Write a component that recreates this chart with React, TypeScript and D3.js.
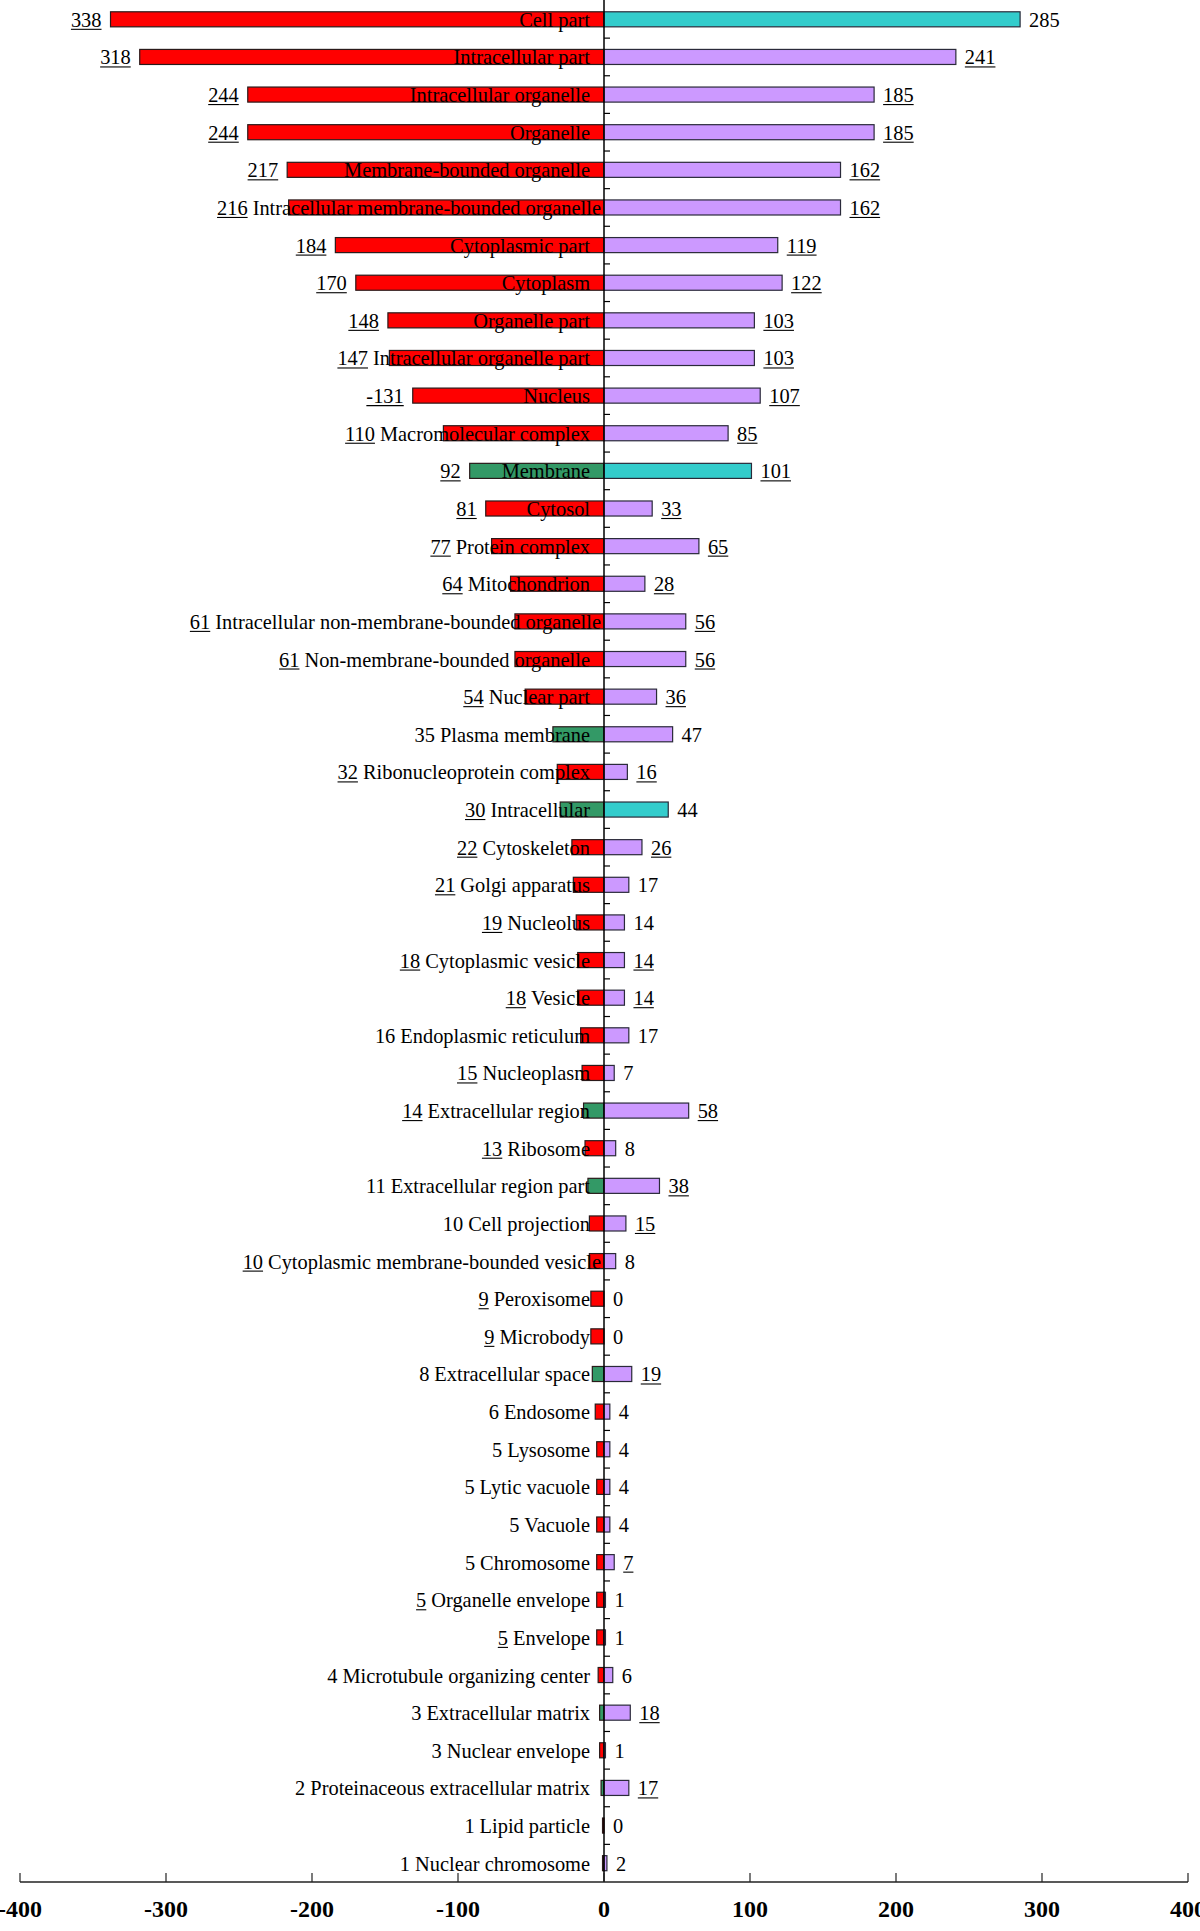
import React from 'react';
import * as d3 from 'd3';

const categories = [
  'Cell part', 'Intracellular part', 'Intracellular organelle', 'Organelle',
  'Membrane-bounded organelle', 'Intracellular membrane-bounded organelle',
  'Cytoplasmic part', 'Cytoplasm', 'Organelle part', 'Intracellular organelle part',
  'Nucleus', 'Macromolecular complex', 'Membrane', 'Cytosol', 'Protein complex',
  'Mitochondrion', 'Intracellular non-membrane-bounded organelle',
  'Non-membrane-bounded organelle', 'Nuclear part', 'Plasma membrane',
  'Ribonucleoprotein complex', 'Intracellular', 'Cytoskeleton', 'Golgi apparatus',
  'Nucleolus', 'Cytoplasmic vesicle', 'Vesicle', 'Endoplasmic reticulum',
  'Nucleoplasm', 'Extracellular region', 'Ribosome', 'Extracellular region part',
  'Cell projection', 'Cytoplasmic membrane-bounded vesicle', 'Peroxisome',
  'Microbody', 'Extracellular space', 'Endosome', 'Lysosome', 'Lytic vacuole',
  'Vacuole', 'Chromosome', 'Organelle envelope', 'Envelope',
  'Microtubule organizing center', 'Extracellular matrix', 'Nuclear envelope',
  'Proteinaceous extracellular matrix', 'Lipid particle', 'Nuclear chromosome',
];

const leftValues = [
  338, 318, 244, 244, 217, 216, 184, 170, 148, 147,
  131, 110, 92, 81, 77, 64, 61, 61, 54, 35,
  32, 30, 22, 21, 19, 18, 18, 16, 15, 14,
  13, 11, 10, 10, 9, 9, 8, 6, 5, 5,
  5, 5, 5, 5, 4, 3, 3, 2, 1, 1,
];

const rightValues = [
  285, 241, 185, 185, 162, 162, 119, 122, 103, 103,
  107, 85, 101, 33, 65, 28, 56, 56, 36, 47,
  16, 44, 26, 17, 14, 14, 14, 17, 7, 58,
  8, 38, 15, 8, 0, 0, 19, 4, 4, 4,
  4, 7, 1, 1, 6, 18, 1, 17, 0, 2,
];

const leftLabels = leftValues.map((v, i) => (categories[i] === 'Nucleus' ? '-' + v : String(v)));

const leftUnderlined = [
  1, 1, 1, 1, 1, 1, 1, 1, 1, 1,
  1, 1, 1, 1, 1, 1, 1, 1, 1, 0,
  1, 1, 1, 1, 1, 1, 1, 0, 1, 1,
  1, 0, 0, 1, 1, 1, 0, 0, 0, 0,
  0, 0, 1, 1, 0, 0, 0, 0, 0, 0,
];

const rightUnderlined = [
  0, 1, 1, 1, 1, 1, 1, 1, 1, 1,
  1, 1, 1, 1, 1, 1, 1, 1, 1, 0,
  1, 0, 1, 0, 0, 1, 1, 0, 0, 1,
  0, 1, 1, 0, 0, 0, 1, 0, 0, 0,
  0, 1, 0, 0, 0, 1, 0, 1, 0, 0,
];

const greenLeft = [
  'Membrane', 'Plasma membrane', 'Intracellular', 'Extracellular region',
  'Extracellular region part', 'Extracellular space', 'Extracellular matrix',
  'Proteinaceous extracellular matrix',
];
const tealRight = ['Cell part', 'Membrane', 'Intracellular'];

const xTicks = [-400, -300, -200, -100, 0, 100, 200, 300, 400];

const FONT = "'Liberation Serif', 'Times New Roman', serif";
const RED = '#FF0000';
const GREEN = '#339966';
const PURPLE = '#CC99FF';
const TEAL = '#33CCCC';

let ctx: CanvasRenderingContext2D | null = null;
function measure(text: string, size: number, weight = 'normal'): number {
  if (!ctx) {
    const c = document.createElement('canvas');
    ctx = c.getContext('2d');
  }
  if (!ctx) return text.length * size * 0.5;
  ctx.font = `${weight} ${size}px 'Liberation Serif', 'Times New Roman', serif`;
  return ctx.measureText(text).width;
}

export default function App() {
  const W = 1200;
  const H = 1931;
  const plotBottom = 1882;
  const x = d3.scaleLinear().domain([-400, 400]).range([20, 1188]);
  const y = d3
    .scaleBand<string>()
    .domain(categories)
    .range([0.5, plotBottom])
    .paddingInner(0.6)
    .paddingOuter(0.3);
  const x0 = x(0);
  const bw = y.bandwidth();
  const fs = 20.4;

  const boundaries = categories.slice(1).map((c) => (y(c) as number) - (y.step() * y.paddingInner()) / 2);

  return (
    <svg
      width={W}
      height={H}
      style={{ position: 'absolute', left: 0, top: 0, background: '#fff' }}
      fontFamily={FONT}
    >
      <rect x={0} y={0} width={W} height={H} fill="#fff" />
      {categories.map((cat, i) => {
        const yTop = y(cat) as number;
        const cy = yTop + bw / 2;
        const base = cy + 7.5;
        const lv = leftValues[i];
        const rv = rightValues[i];
        const lx = x(-lv);
        const rx = x(rv);
        const catW = measure(cat, fs);
        const catEnd = catW > 330 ? 601 : 590;
        const catStart = catEnd - catW;
        const lText = leftLabels[i];
        const lW = measure(lText, fs);
        const lEnd = catStart < lx ? catStart - 5 : lx - 9;
        const rText = String(rv);
        const rW = measure(rText, fs);
        const rStart = rx + 9;
        return (
          <g key={cat}>
            <rect
              x={lx}
              y={yTop}
              width={x0 - lx}
              height={bw}
              fill={greenLeft.includes(cat) ? GREEN : RED}
              stroke="#2a1a1a"
              strokeWidth={1.2}
            />
            <rect
              x={x0}
              y={yTop}
              width={rx - x0}
              height={bw}
              fill={tealRight.includes(cat) ? TEAL : PURPLE}
              stroke="#2a2a3a"
              strokeWidth={1.2}
            />
            <text x={catEnd} y={base} textAnchor="end" fontSize={fs} fill="#000">
              {cat}
            </text>
            <text x={lEnd} y={base} textAnchor="end" fontSize={fs} fill="#000">
              {lText}
            </text>
            {leftUnderlined[i] ? (
              <line x1={lEnd - lW} x2={lEnd} y1={base + 2.5} y2={base + 2.5} stroke="#000" strokeWidth={1.1} />
            ) : null}
            <text x={rStart} y={base} textAnchor="start" fontSize={fs} fill="#000">
              {rText}
            </text>
            {rightUnderlined[i] ? (
              <line x1={rStart} x2={rStart + rW} y1={base + 2.5} y2={base + 2.5} stroke="#000" strokeWidth={1.1} />
            ) : null}
          </g>
        );
      })}
      {/* vertical axis */}
      <line x1={x0} x2={x0} y1={0} y2={plotBottom} stroke="#000" strokeWidth={1.5} />
      {boundaries.map((b, i) => (
        <line key={i} x1={x0} x2={x0 + 6} y1={b} y2={b} stroke="#000" strokeWidth={1.2} />
      ))}
      {/* horizontal axis */}
      <line x1={x(-400)} x2={x(400)} y1={plotBottom} y2={plotBottom} stroke="#222" strokeWidth={1.5} />
      {xTicks.map((t) => (
        <g key={t}>
          <line x1={x(t)} x2={x(t)} y1={plotBottom - 9} y2={plotBottom} stroke="#222" strokeWidth={1.2} />
          <text x={x(t)} y={1917} textAnchor="middle" fontSize={24} fontWeight="bold" fill="#000">
            {t}
          </text>
        </g>
      ))}
    </svg>
  );
}
